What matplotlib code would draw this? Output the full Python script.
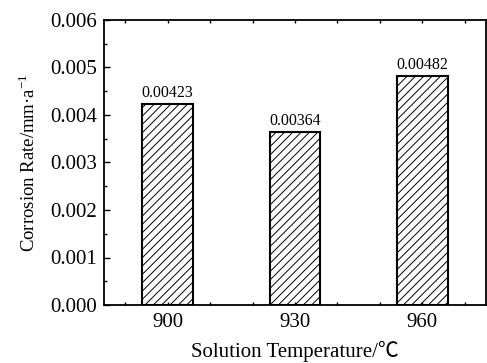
import matplotlib
matplotlib.use('Agg')
import matplotlib.pyplot as plt
from matplotlib.ticker import MultipleLocator

temps = ['900', '930', '960']
rates = [0.00423, 0.00364, 0.00482]
rate_labels = ['0.00423', '0.00364', '0.00482']

plt.rcParams['font.family'] = ['Liberation Serif', 'Noto Sans CJK SC', 'DejaVu Sans']
plt.rcParams['hatch.linewidth'] = 0.7
plt.rcParams['mathtext.fontset'] = 'custom'
plt.rcParams['mathtext.rm'] = 'Liberation Serif'

fig = plt.figure(figsize=(4.87, 3.63), dpi=100)
ax = fig.add_axes([104/487, 58/363, 382/487, 285/363])

xpos = [1, 2, 3]
bars = ax.bar(xpos, rates, width=0.4, color='white', edgecolor='black',
              linewidth=1.5, hatch='////')

for x, r, lab in zip(xpos, rates, rate_labels):
    ax.text(x, r + 0.00007, lab, ha='center', va='bottom', fontsize=11.5)

ax.set_xlim(0.5, 3.5)
ax.set_ylim(0, 0.006)
ax.set_xticks(xpos)
ax.set_xticklabels(temps)
ax.xaxis.set_minor_locator(MultipleLocator(1/3))
ax.yaxis.set_major_locator(MultipleLocator(0.001))
ax.yaxis.set_minor_locator(MultipleLocator(0.0005))
ax.yaxis.set_major_formatter(plt.FormatStrFormatter('%.3f'))

ax.tick_params(axis='y', which='major', direction='in', length=4, width=1,
               labelsize=15, pad=5)
ax.tick_params(axis='y', which='minor', direction='in', length=2.5, width=1)
ax.tick_params(axis='x', which='both', direction='in', length=2, width=1,
               top=True, labelsize=15, pad=6)

for s in ax.spines.values():
    s.set_linewidth(1.3)

ax.set_ylabel('Corrosion Rate/mm·a$^{-1}$', fontsize=13.5, labelpad=8)
ax.set_xlabel('Solution Temperature/℃', fontsize=15, labelpad=6)

fig.savefig('out.png', dpi=100)
